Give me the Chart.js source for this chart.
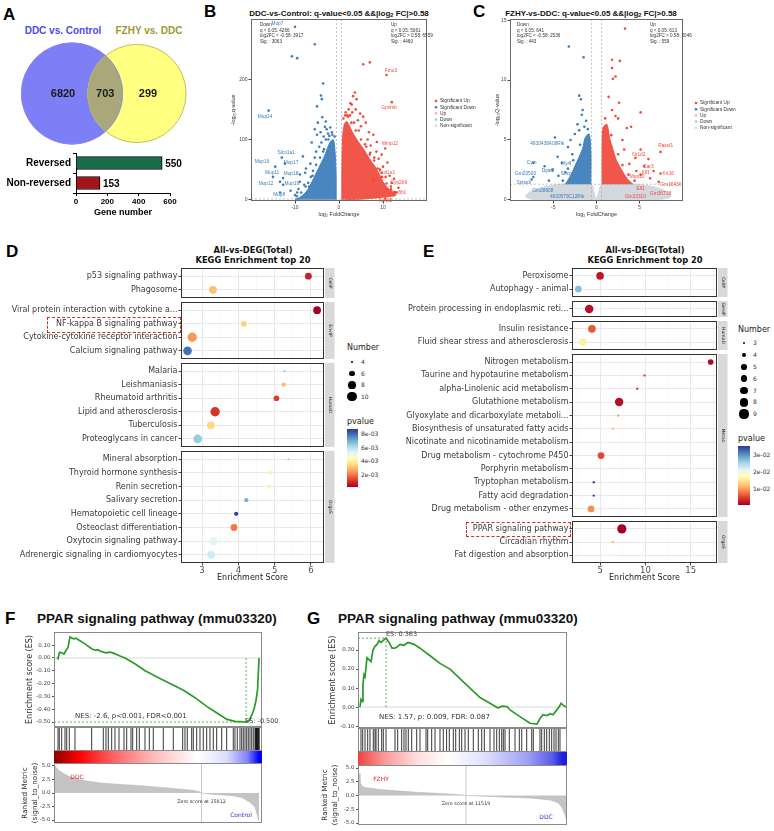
<!DOCTYPE html>
<html lang="en">
<head>
<meta charset="UTF-8">
<title>DEG overlap, volcano, KEGG and GSEA</title>
<script src="https://cdn.jsdelivr.net/npm/chart.js"></script>
<style>
  html, body { margin: 0; padding: 0; background: #fff; }
  body { position: relative; width: 774px; height: 831px; overflow: hidden; }
  .t { position: absolute; white-space: nowrap; }
  .letter { font: bold 17px 'Liberation Sans', Arial, sans-serif; line-height: 17px; color: #000; }
  .c { transform: translateX(-50%); }
  .vt { font: bold 8px 'Liberation Sans', Arial, sans-serif; line-height: 10px; color: #111; }
  .vt sub { font-size: 5.5px; vertical-align: -1px; }
  .kt { font: bold 8.3px 'DejaVu Sans', sans-serif; line-height: 10px; text-align: center; color: #111; }
  .gt { font: bold 13.5px 'Liberation Sans', Arial, sans-serif; line-height: 14px; color: #111; }
  .box { position: absolute; border: 1px dashed #d42a2a; }
</style>
</head>
<body>
<div class="t letter" style="left:3px;top:6px">A</div>
<div class="t letter" style="left:204px;top:3px">B</div>
<div class="t letter" style="left:473px;top:3px">C</div>
<div class="t letter" style="left:6px;top:243px">D</div>
<div class="t letter" style="left:423px;top:243px">E</div>
<div class="t letter" style="left:5px;top:610px">F</div>
<div class="t letter" style="left:307px;top:610px">G</div>

<div class="t vt c" style="left:339px;top:9px">DDC-vs-Control: q-value&lt;0.05 &amp;&amp;|log<sub>2</sub> FC|&gt;0.58</div>
<div class="t vt c" style="left:591px;top:9px">FZHY-vs-DDC: q-value&lt;0.05 &amp;&amp;|log<sub>2</sub> FC|&gt;0.58</div>
<div class="t kt c" style="left:253px;top:245px">All-vs-DEG(Total)<br>KEGG Enrichment top 20</div>
<div class="t kt c" style="left:645px;top:245px">All-vs-DEG(Total)<br>KEGG Enrichment top 20</div>
<div class="t gt" style="left:37px;top:612px">PPAR signaling pathway (mmu03320)</div>
<div class="t gt" style="left:338px;top:612px">PPAR signaling pathway (mmu03320)</div>
<div class="box" style="left:47px;top:317px;width:132px;height:14px"></div>
<div class="box" style="left:466px;top:522px;width:103px;height:13px"></div>

<script>
// ---------------- data ----------------
// A: overlap of DEG sets and reversal
const vennSets = ['DDC vs. Control', 'FZHY vs. DDC'];
const vennCounts = [6820, 703, 299];          // left only, shared, right only
const revCategories = ['Reversed', 'Non-reversed'];
const revValues = [550, 153];

// volcano thresholds
const fcCut = 0.58;
const qCut = 0.05;

// B: DDC vs Control volcano (log2FC, -log10 q)
const bStatsDown = ['Down', 'q < 0.05: 4266', 'log2FC < -0.58: 3917', 'Sig. : 3063'];
const bStatsUp = ['Up', 'q < 0.05: 5061', 'log2FC > 0.58: 6559', 'Sig. : 4460'];
const bDownCloud = [[-0.65,0],[-0.65,40],[-0.9,80],[-1.3,100],[-2,96],[-2.6,86],[-3.2,74],[-4,62],[-4.8,50],[-5.8,35],[-7,18],[-8,9],[-9,3.5],[-10,0.8],[-9,0]];
const bUpCloud = [[0.65,0],[0.65,50],[0.8,100],[1.2,125],[1.8,130],[2.4,122],[3.2,110],[4.5,95],[5.5,85],[6.6,72],[7.5,62],[8.2,55],[9.2,42],[10,30],[11,20],[12,14],[12.8,10],[12.8,7],[11,5],[9,3.5],[7,2],[5,1],[3,0.5],[1.5,0]];
const bSigDown = [[-10,287],[-5.5,258],[-10.7,238],[-9.5,235],[-3.6,193],[-4.1,173],[-3.9,167],[-5,155],[-16,148],[-3.8,137],[-4.8,128],[-3.2,121],[-5.5,117],[-2.8,117],[-5,108],[-4.2,112],[-3.5,105],[-6.2,95],[-2.5,110],[-13,70],[-12.3,60],[-14.5,55],[-15,38],[-12.7,36],[-13.4,30],[-12.7,25],[-13.4,12],[-8.2,72],[-8.9,42],[-7.7,45],[-8.9,30],[-6.5,60],[-5.5,70],[-7,28],[-11,15],[-10,8],[-6,40],[-4.5,88],[-3,100],[-2.2,106],[-7.5,52],[-6.8,22],[-9.5,12],[-5.2,80],[-4,95],[-3.4,84],[-4.3,70],[-5.9,48],[-7.9,25],[-9.2,18],[-1.6,112],[-2.0,120],[-3.0,130],[-1.0,105],[-1.5,108],[-2.4,100],[-3.6,80],[-5.2,58],[-6.4,38],[-7.6,22],[-8.6,12],[-9.6,6]];
const bSigUp = [[5.5,225],[7,228],[10.8,207],[12,162],[3.6,178],[4,167],[3.2,172],[2.9,158],[3.8,150],[5.5,138],[4.8,143],[2.5,140],[6.1,128],[10.5,85],[7.8,108],[8.6,96],[6.8,112],[5,122],[9.7,75],[9,68],[11,62],[9.7,45],[12,28],[10.8,17],[10.5,2],[7.8,33],[13,12],[8.5,80],[4.3,132],[3,145],[6.5,100],[7.2,90],[11.5,40],[13.5,20],[2.2,150],[1.9,140],[4.5,115],[8,70],[10,55],[12.5,35],[1.5,145],[2.6,160],[3.4,128],[5.9,92],[7.1,78],[9.3,50],[10.6,38],[11.8,22],[1.0,135],[1.4,140],[2.0,138],[2.8,128],[3.8,115],[5.0,100],[6.2,88],[7.0,75],[8.0,65],[8.8,52],[9.8,38],[10.8,27],[11.8,18],[12.6,13]];
const bDownLabels = [['Mup7',-14,292],['Mup14',-16.8,138],['Slco1a1',-12,78],['Mup16',-17.5,63],['Mup17',-10.9,61],['Mup11',-15.2,45],['Mup18',-10.9,43],['Mup12',-16.6,27],['Mup19',-10.7,27],['Mup8',-13.6,8]];
const bUpLabels = [['Fmo3',11.8,215],['Gpnmb',11.4,153],['Mmp12',11.6,93],['Sult1e1',10.9,45],['Cyp2b9',13.6,28],['Cyp8b1',13.4,12],['Tceal5',10.5,-1]];

// C: FZHY vs DDC volcano
const cStatsDown = ['Down', 'q < 0.05: 641', 'log2FC < -0.58: 2536', 'Sig. : 443'];
const cStatsUp = ['Up', 'q < 0.05: 613', 'log2FC > 0.58: 2046', 'Sig. : 559'];
const cGrayCloud = [[0,0],[0.35,0.9],[0.6,1.3],[4.5,1.3],[6.8,1.05],[8.3,0.6],[8.6,0.25],[7.5,0.05],[3,0],[-3,0],[-7.5,0.05],[-8.2,0.3],[-7.6,0.7],[-6.2,1.05],[-4.3,1.3],[-0.6,1.3],[-0.35,0.9]];
const cDownCloud = [[-0.65,1.3],[-0.65,4],[-0.85,5.5],[-1.3,5.2],[-1.6,4.3],[-2.0,3.6],[-2.5,2.8],[-3.0,2.0],[-3.6,1.3]];
const cUpCloud = [[0.65,1.3],[0.65,4],[0.75,6],[1.2,6.3],[1.5,5.2],[1.9,4.2],[2.3,3.3],[2.9,2.5],[3.5,1.8],[4.2,1.3]];
const cSigDown = [[-3.2,12.8],[-1.5,11.9],[-2.0,8.7],[-1.8,8.4],[-1.6,7.5],[-1.7,7.1],[-1.4,6.1],[-4.8,5.2],[-3.3,4.4],[-7.3,3.1],[-7.3,1.9],[-5.1,2.5],[-4,3.1],[-3.6,2.3],[-7.5,1.7],[-2.5,5.5],[-1.2,6.6],[-2.2,6.3],[-2.8,3.8],[-4.4,2.0],[-6,2.8],[-5.5,1.6],[-3.0,5.0],[-2.0,5.8],[-4.5,3.6],[-3.9,1.6],[-3.3,2.6],[-2.7,3.3],[-1.9,4.6],[-1.0,5.9]];
const cSigUp = [[3.3,14.3],[1.8,11.7],[2.7,11.6],[1.8,11.0],[2.2,10.3],[1.9,10.1],[2.6,8.1],[5.1,7.3],[1.8,7.5],[4.0,6.1],[3.5,6.0],[7.4,4.0],[5.1,4.2],[6.0,3.4],[6.6,2.4],[7.4,2.2],[5.1,2.1],[7.2,1.5],[2.5,6.8],[3.0,5.0],[4.5,3.5],[3.8,3.0],[5.5,2.8],[6.2,1.8],[4.6,2.4],[2.2,7.0],[1.4,8.6],[3.2,4.2],[4.4,1.6],[3.7,2.1],[3.0,2.9],[2.5,3.8],[1.7,5.4],[1.0,6.8]];
const cDownLabels = [['4930438A08Rik',-5.7,4.7],['Cym',-7.5,3.1],['Gm20500',-8.2,2.2],['Dgat2',-5.6,2.4],['Myrfl',-3.5,3.0],['Sncg',-3.5,2.2],['Sptssb',-8.4,1.4],['Gm28608',-6.2,0.75],['4930579C12Rik',-3.4,0.25]];
const cUpLabels = [['Rassf1',8,4.5],['Nr1d2',4.9,3.75],['Car3',6.0,2.75],['Klf1',5.7,2.3],['Krt16',8.3,2.2],['Mup20',4.7,1.9],['Gm16430',8.6,1.3],['Elf1',5.1,0.9],['Gm36718',7.4,0.5],['Gm33310',4.5,0.25]];

// D: KEGG enrichment (DDC vs Control)
const dNames = ['p53 signaling pathway','Phagosome','Viral protein interaction with cytokine a...','NF-kappa B signaling pathway','Cytokine-cytokine receptor interaction','Calcium signaling pathway','Malaria','Leishmaniasis','Rheumatoid arthritis','Lipid and atherosclerosis','Tuberculosis','Proteoglycans in cancer','Mineral absorption','Thyroid hormone synthesis','Renin secretion','Salivary secretion','Hematopoietic cell lineage','Osteoclast differentiation','Oxytocin signaling pathway','Adrenergic signaling in cardiomyocytes'];
const dClass = ['CellP','CellP','EnvIP','EnvIP','EnvIP','EnvIP','HumaD','HumaD','HumaD','HumaD','HumaD','HumaD','OrgaS','OrgaS','OrgaS','OrgaS','OrgaS','OrgaS','OrgaS','OrgaS'];
const dScore = [5.93,3.30,6.17,4.15,2.73,2.60,5.27,5.25,5.05,3.36,3.24,2.88,5.38,4.90,4.84,4.22,3.94,3.88,3.32,3.25];
const dNumber = [7,8,8,6,10,9,4,5,6,10,8,9,4,5,5,5,5,7,8,8];
const dPvalue = [8e-4,3.1e-3,2e-4,3.4e-3,2.5e-3,8e-3,6.8e-3,3e-3,1.2e-3,1.1e-3,3.5e-3,6.5e-3,6.5e-3,4.1e-3,4.2e-3,7e-3,8.6e-3,2e-3,5.2e-3,5.6e-3];
const dNumberTicks = [4, 6, 8, 10];
const dPTicks = [8e-3, 6e-3, 4e-3, 2e-3];

// E: KEGG enrichment (FZHY vs DDC)
const eNames = ['Peroxisome','Autophagy - animal','Protein processing in endoplasmic reti...','Insulin resistance','Fluid shear stress and atherosclerosis','Nitrogen metabolism','Taurine and hypotaurine metabolism','alpha-Linolenic acid metabolism','Glutathione metabolism','Glyoxylate and dicarboxylate metaboli...','Biosynthesis of unsaturated fatty acids','Nicotinate and nicotinamide metabolism','Drug metabolism - cytochrome P450','Porphyrin metabolism','Tryptophan metabolism','Fatty acid degradation','Drug metabolism - other enzymes','PPAR signaling pathway','Circadian rhythm','Fat digestion and absorption'];
const eClass = ['CellP','CellP','GenIP','HumaD','HumaD','Metab','Metab','Metab','Metab','Metab','Metab','Metab','Metab','Metab','Metab','Metab','Metab','OrgaS','OrgaS','OrgaS'];
const eScore = [5.0,2.6,3.8,4.1,3.1,17.2,9.9,9.1,7.1,7.0,6.4,5.4,5.1,5.3,4.3,4.3,4.0,7.4,6.4,6.6];
const eNumber = [7,6,8,7,7,5,3,3,8,3,3,3,6,3,3,3,6,9,3,3];
const ePvalue = [2e-3,2.7e-2,1.5e-3,6e-3,1.6e-2,1e-3,5e-3,5e-3,1.5e-3,1e-2,1.2e-2,1.8e-2,5e-3,2.0e-2,3.4e-2,3.4e-2,9e-3,5e-4,1.2e-2,1.9e-2];
const eNumberTicks = [3, 4, 5, 6, 7, 8, 9];
const ePTicks = [3e-2, 2e-2, 1e-2];

// F / G: GSEA PPAR signaling pathway (rank, value)
const nGenes = 22300;
const fNES = 'NES: -2.6, p<0.001, FDR<0.001';
const fZero = 15812;
const fES = [[320,0.0],[430,-0.005],[590,0.045],[860,0.04],[1070,0.03],[1290,0.06],[1500,0.08],[1715,0.165],[1930,0.155],[2140,0.15],[2360,0.155],[2570,0.145],[3320,0.11],[4070,0.07],[4500,0.06],[4720,0.065],[4930,0.055],[5570,0.04],[6000,0.045],[6330,0.04],[7080,0.015],[7610,0.0],[8680,-0.045],[9760,-0.1],[10290,-0.12],[11360,-0.16],[12440,-0.2],[13830,-0.25],[15120,-0.31],[16400,-0.38],[17480,-0.43],[18550,-0.48],[19410,-0.495],[19940,-0.497],[20590,-0.5],[20910,-0.49],[21230,-0.44],[21440,-0.4],[21660,-0.33],[21820,-0.25],[21920,-0.1],[21980,0.0]];
const fHits = [429,568,825,1179,1361,1640,2251,4041,5285,5574,5821,6185,6539,6968,7504,7793,8254,8437,8865,9144,9755,10216,10645,11717,12789,13797,14043,14290,14761,14933,15297,15651,16005,16369,16723,17077,17441,17977,18513,19221,19403,19650,19939,20121,20293,20475,20657,20829,21011,21193,21365,21547,21600,21654,21700,21729,21760,21794,21850,21901,21950,22000];
const fRanked = [[0,5.2],[200,4.8],[500,4.2],[1000,3.6],[1700,3.0],[2500,2.6],[3500,2.2],[5000,1.85],[6500,1.65],[8000,1.5],[10000,1.25],[12400,0.9],[14000,0.65],[15000,0.45],[15650,0.2],[15812,0],[16500,-0.15],[17500,-0.3],[19200,-0.5],[20200,-0.9],[21000,-1.7],[21550,-2.6],[21870,-4.6],[21980,-5.2]];

const gNES = 'NES: 1.57, p: 0.009, FDR: 0.087';
const gZero = 11519;
const gES = [[210,0],[320,0.04],[430,0.03],[530,0.12],[640,0.17],[750,0.16],[960,0.26],[1170,0.25],[1390,0.24],[1600,0.30],[1810,0.32],[2030,0.33],[2240,0.35],[2450,0.34],[2670,0.35],[2988,0.363],[3310,0.34],[3630,0.31],[3950,0.31],[4270,0.32],[4480,0.33],[4910,0.325],[5330,0.34],[5660,0.335],[5980,0.33],[6620,0.31],[7690,0.27],[8750,0.23],[9820,0.2],[10880,0.15],[11950,0.1],[13020,0.05],[14080,0.02],[14940,-0.005],[15360,0.005],[15900,0.003],[16220,-0.015],[17280,-0.05],[18350,-0.085],[19100,-0.09],[19420,-0.06],[19740,-0.04],[20170,-0.045],[20490,-0.035],[20810,-0.04],[21130,-0.02],[21450,0.0],[21660,0.02],[21880,0.01],[22200,0.0]];
const gHits = [320,501,747,1035,1280,1633,1814,1921,2166,2529,2700,2988,3948,4236,4663,4908,5122,5367,5730,6263,6615,7256,7437,7864,8216,8749,9102,9454,9742,10169,10425,10809,11065,11417,11769,12303,12836,13199,13476,14084,14511,14799,15077,15333,15504,15685,16144,16752,17211,17467,18000,18534,18705,19419,19600,19878,20134,20411,20667,20913,21127,21372,21553];
const gRanked = [[0,4.2],[107,4.0],[213,2.5],[427,1.7],[747,1.45],[2350,1.1],[4480,0.8],[6615,0.55],[8750,0.35],[10880,0.15],[11519,0],[15150,-0.25],[18350,-0.45],[20490,-0.8],[21340,-1.3],[21770,-2.2],[22090,-3.5],[22200,-4.2]];

// ---------------- helpers ----------------
const FA = "'Liberation Sans', Arial, sans-serif";
const FD = "'DejaVu Sans', sans-serif";
Chart.defaults.animation = false;
Chart.defaults.events = [];
Chart.defaults.font.family = FD;
Chart.defaults.plugins.legend.display = false;
Chart.defaults.plugins.tooltip.enabled = false;

const COL = { up: '#ef4a3c', down: '#3b7dbb', upPale: '#f5b4ac', downPale: '#a9c8e6', ns: '#d3d8de' };
const RDYLBU = ['#a50026','#d73027','#f46d43','#fdae61','#fee090','#ffffbf','#e0f3f8','#abd9e9','#74add1','#4575b4','#313695'];

function hex(h) { return [1, 3, 5].map(i => parseInt(h.substr(i, 2), 16)); }
function pColor(p, lo, hi) {
  let t = (p - lo) / (hi - lo);
  t = Math.max(0, Math.min(1, t));
  const f = t * (RDYLBU.length - 1);
  const i = Math.min(Math.floor(f), RDYLBU.length - 2), u = f - i;
  const a = hex(RDYLBU[i]), b = hex(RDYLBU[i + 1]);
  return 'rgb(' + a.map((v, k) => Math.round(v + (b[k] - v) * u)).join(',') + ')';
}
const pts = arr => arr.map(([x, y]) => ({ x, y }));

// fixed axis sizes, with the label overhang padding switched off
function noPad(s) { s.paddingTop = 0; s.paddingBottom = 0; s.paddingLeft = 0; s.paddingRight = 0; }
const fitW = w => s => { s.width = w; noPad(s); };
const fitH = h => s => { s.height = h; noPad(s); };

function extrasPlugin(ex) {
  return {
    id: 'extras',
    afterDatasetsDraw(chart) {
      if (!ex.barValues) return;
      const ctx = chart.ctx, bv = ex.barValues;
      ctx.save();
      ctx.font = bv.font; ctx.fillStyle = bv.color; ctx.textAlign = 'left'; ctx.textBaseline = 'middle';
      chart.getDatasetMeta(0).data.forEach((el, i) => {
        ctx.fillText(String(chart.data.datasets[0].data[i]), el.x + bv.offset, el.y + 1);
      });
      ctx.restore();
    },
    afterDraw(chart) {
      const ctx = chart.ctx, a = chart.chartArea;
      ctx.save();
      if (ex.strip) {
        ctx.fillStyle = '#d9d9d9';
        ctx.fillRect(a.right + 1, a.top, ex.strip.w, a.bottom - a.top);
        ctx.save();
        ctx.translate(a.right + 1 + ex.strip.w / 2, (a.top + a.bottom) / 2);
        ctx.rotate(Math.PI / 2);
        ctx.fillStyle = '#1a1a1a'; ctx.font = ex.strip.font;
        ctx.textAlign = 'center'; ctx.textBaseline = 'middle';
        ctx.fillText(ex.strip.text, 0, 0);
        ctx.restore();
      }
      if (ex.frame) {
        ctx.strokeStyle = ex.frame.color; ctx.lineWidth = ex.frame.width;
        ctx.strokeRect(a.left + 0.5, a.top + 0.5, a.right - a.left - 1, a.bottom - a.top - 1);
      }
      (ex.texts || []).forEach(t => {
        const x = (t.xd ? chart.scales.x.getPixelForValue(t.x) : t.x) + (t.dx || 0);
        const y = (t.yd ? chart.scales.y.getPixelForValue(t.y) : t.y) + (t.dy || 0);
        ctx.font = t.font; ctx.fillStyle = t.color || '#000';
        ctx.textAlign = t.align || 'left'; ctx.textBaseline = 'middle';
        ctx.fillText(t.text, x, y);
      });
      if (ex.legend) {
        const L = ex.legend;
        L.items.forEach(([txt, col], i) => {
          const y = L.y + i * L.dy;
          ctx.fillStyle = col; ctx.beginPath();
          ctx.arc(a.right + L.dx, y, L.r, 0, Math.PI * 2); ctx.fill();
          ctx.fillStyle = '#333'; ctx.font = L.font; ctx.textAlign = 'left'; ctx.textBaseline = 'middle';
          ctx.fillText(txt, a.right + L.tx, y);
        });
      }
      ctx.restore();
    }
  };
}

function mk(left, top, w, h, cfg, ex) {
  const cv = document.createElement('canvas');
  cv.width = w; cv.height = h;
  cv.style.cssText = 'position:absolute;left:' + left + 'px;top:' + top + 'px;width:' + w + 'px;height:' + h + 'px';
  document.body.appendChild(cv);
  cfg.options = cfg.options || {};
  cfg.options.responsive = false;
  cfg.options.layout = Object.assign({ autoPadding: false }, cfg.options.layout || {});
  cfg.plugins = (cfg.plugins || []).concat([extrasPlugin(ex || {})]);
  return new Chart(cv, cfg);
}

function txt(x, y, s, css, center) {
  const d = document.createElement('div');
  d.className = 't' + (center ? ' c' : '');
  d.style.cssText += 'left:' + x + 'px;top:' + y + 'px;' + css;
  d.textContent = s;
  document.body.appendChild(d);
}

// ---------------- A: Venn ----------------
txt(63, 26, vennSets[0], "font:bold 10px " + FA + ";line-height:10px;color:#4b4bea", true);
txt(149, 26, vennSets[1], "font:bold 10px " + FA + ";line-height:10px;color:#9c9a2e", true);

const vennLens = {
  id: 'vennLens',
  afterDatasetsDraw(chart) {
    const ctx = chart.ctx;
    const [p0, p1] = chart.getDatasetMeta(0).data;
    const r0 = p0.options.radius, r1 = p1.options.radius;
    ctx.save();
    ctx.beginPath(); ctx.arc(p0.x, p0.y, r0, 0, Math.PI * 2); ctx.clip();
    ctx.beginPath(); ctx.arc(p1.x, p1.y, r1, 0, Math.PI * 2);
    ctx.fillStyle = '#aaa87b'; ctx.fill();
    ctx.restore();
    ctx.save();
    ctx.lineWidth = 0.8;
    ctx.strokeStyle = '#8a8ae6'; ctx.beginPath(); ctx.arc(p0.x, p0.y, r0 - 0.4, 0, Math.PI * 2); ctx.stroke();
    ctx.strokeStyle = '#b2b062'; ctx.beginPath(); ctx.arc(p1.x, p1.y, r1 - 0.4, 0, Math.PI * 2); ctx.stroke();
    ctx.font = 'bold 11px ' + FA; ctx.fillStyle = '#1a1a1a';
    ctx.textAlign = 'center'; ctx.textBaseline = 'middle';
    const lens = (p1.x - r1 + p0.x + r0) / 2;
    ctx.fillText(String(vennCounts[0]), p0.x - 9, p0.y);
    ctx.fillText(String(vennCounts[1]), lens, p0.y);
    ctx.fillText(String(vennCounts[2]), p1.x + 11, p1.y);
    ctx.restore();
  }
};
mk(0, 36, 200, 115, {
  type: 'bubble',
  data: { datasets: [{
    data: vennSets.map((s, i) => ({ x: i, y: 0, r: i === 0 ? 51 : 49.5 })),
    backgroundColor: ['#7e7ef6', '#ffff80'],
    borderWidth: 0, clip: false
  }] },
  options: {
    layout: { padding: 0 },
    scales: { x: { display: false, min: -72 / 65, max: 128 / 65 }, y: { display: false, min: -1, max: 1 } }
  },
  plugins: [vennLens]
});

// ---------------- A: reversal bars ----------------
mk(0, 150, 200, 68, {
  type: 'bar',
  data: { labels: revCategories, datasets: [{
    data: revValues, backgroundColor: ['#1b6c4d', '#a3141b'], borderColor: '#000', borderWidth: 1, barThickness: 13
  }] },
  options: {
    indexAxis: 'y',
    layout: { padding: { top: 3, right: 30, bottom: 0, left: 0 } },
    scales: {
      y: {
        afterFit: fitW(76),
        grid: { drawOnChartArea: false, tickLength: 3, color: '#000' },
        border: { display: true, color: '#000', width: 1 },
        ticks: { font: { family: FA, weight: 'bold', size: 10 }, color: '#000', padding: 2 }
      },
      x: {
        min: 0, max: 600,
        afterFit: fitH(25),
        afterBuildTicks: s => { s.ticks = [0, 200, 400, 600].map(v => ({ value: v })); },
        grid: { drawOnChartArea: false, tickLength: 3, color: '#000' },
        border: { color: '#000', width: 1 },
        ticks: { font: { family: FA, weight: 'bold', size: 8 }, color: '#000', padding: 1, autoSkip: false, maxRotation: 0 },
        title: { display: true, text: 'Gene number', font: { family: FA, weight: 'bold', size: 9 }, color: '#000', padding: 0 }
      }
    }
  }
}, { barValues: { font: 'bold 10px ' + FA, color: '#000', offset: 3 } });

// ---------------- B / C: volcano ----------------
function volcano(o) {
  const cut = -Math.log10(qCut);
  const thr = { type: 'line', borderColor: '#a0a0a0', borderWidth: 0.6, borderDash: [2, 2], pointRadius: 0, fill: false, order: 0 };
  const cloud = (data, col, ord) => ({ type: 'line', data: pts(data), fill: 'shape', backgroundColor: col, borderColor: col, borderWidth: 1, pointRadius: 0, tension: 0.3, order: ord });
  const ds = [
    Object.assign({ data: [{ x: -fcCut, y: o.yMin }, { x: -fcCut, y: o.yMax }] }, thr),
    Object.assign({ data: [{ x: fcCut, y: o.yMin }, { x: fcCut, y: o.yMax }] }, thr),
    Object.assign({ data: [{ x: o.xMin, y: cut }, { x: o.xMax, y: cut }] }, thr),
    { data: pts(o.sigUp), backgroundColor: COL.up, pointRadius: 1.3, borderWidth: 0, order: 1 },
    { data: pts(o.sigDown), backgroundColor: COL.down, pointRadius: 1.3, borderWidth: 0, order: 1 },
    cloud(o.upCloud, 'rgba(239,74,60,0.93)', 2),
    cloud(o.downCloud, 'rgba(59,125,187,0.93)', 2)
  ];
  if (o.gray) ds.push(cloud(o.gray, COL.ns, 3));

  const texts = [];
  const statFont = '4.6px ' + FA;
  o.statsDown.forEach((s, i) => texts.push({ text: s, x: o.statDownX, y: 25 + i * 5.6, font: statFont, color: '#333' }));
  o.statsUp.forEach((s, i) => texts.push({ text: s, x: o.statUpX, y: 25 + i * 5.6, font: statFont, color: '#333' }));
  o.downLabels.forEach(([n, x, y]) => texts.push({ text: n, x, y, xd: true, yd: true, font: '4.8px ' + FA, color: COL.down, align: 'center' }));
  o.upLabels.forEach(([n, x, y]) => texts.push({ text: n, x, y, xd: true, yd: true, font: '4.8px ' + FA, color: COL.up, align: 'center' }));

  const axisCommon = {
    grid: { drawOnChartArea: false, tickLength: 2.5, color: '#444' },
    border: { display: false },
    ticks: { font: { size: 5, family: FA }, color: '#444', padding: 1, autoSkip: false, maxRotation: 0 }
  };
  mk(o.left, 0, o.width, 218, {
    type: 'scatter',
    data: { datasets: ds },
    options: {
      layout: { padding: { top: 19, right: o.padR, bottom: 0, left: o.padL } },
      scales: {
        x: Object.assign({
          type: 'linear', min: o.xMin, max: o.xMax,
          afterFit: fitH(17),
          afterBuildTicks: s => { s.ticks = o.xTicks.map(v => ({ value: v })); },
          title: { display: true, text: 'log\u2082 FoldChange', font: { size: 5.5, family: FA }, color: '#333', padding: 0 }
        }, axisCommon),
        y: Object.assign({
          type: 'linear', min: o.yMin, max: o.yMax,
          afterFit: fitW(o.yW),
          afterBuildTicks: s => { s.ticks = o.yTicks.map(v => ({ value: v })); },
          title: { display: true, text: o.yTitle, font: { size: 5.5, family: FA }, color: '#333', padding: 0 }
        }, axisCommon)
      }
    }
  }, {
    frame: { color: '#6a6a6a', width: 1 },
    texts,
    legend: {
      dx: o.legDx, tx: o.legDx + 4, y: o.legY, dy: 6.2, r: 1.3, font: '4.8px ' + FA,
      items: [['Significant Up', COL.up], ['Significant Down', COL.down], ['Up', COL.upPale], ['Down', COL.downPale], ['Non-significant', COL.ns]]
    }
  });
}

volcano({
  left: 200, width: 290, padL: 30, yW: 21, padR: 63,
  xMin: -20, xMax: 20, yMin: -2, yMax: 300, xTicks: [-10, 0, 10], yTicks: [0, 100, 200],
  yTitle: '-log\u2081\u2080q-value',
  sigUp: bSigUp, sigDown: bSigDown, upCloud: bUpCloud, downCloud: bDownCloud, gray: null,
  statsDown: bStatsDown, statsUp: bStatsUp, statDownX: 60, statUpX: 191,
  downLabels: bDownLabels, upLabels: bUpLabels, legDx: 9, legY: 101
});
volcano({
  left: 490, width: 284, padL: 4, yW: 16, padR: 91,
  xMin: -10, xMax: 10, yMin: -0.1, yMax: 15.1, xTicks: [-5, 0, 5], yTicks: [0, 5, 10, 15],
  yTitle: '-log\u2081\u2080Q-value',
  sigUp: cSigUp, sigDown: cSigDown, upCloud: cUpCloud, downCloud: cDownCloud, gray: cGrayCloud,
  statsDown: cStatsDown, statsUp: cStatsUp, statDownX: 27, statUpX: 160,
  downLabels: cDownLabels, upLabels: cUpLabels, legDx: 13, legY: 103
});

// ---------------- D / E: KEGG bubbles ----------------
function keggFacet(o) {
  const n = o.idx.length;
  const topR = Math.round(o.top), botR = Math.round(o.top + o.h);
  const xh = o.bottom ? 20 : 0;
  const isMajor = v => o.xMajor.includes(v);
  mk(o.left, topR, o.width, botR - topR + xh, {
    type: 'scatter',
    data: { datasets: [{
      data: o.idx.map((k, i) => ({ x: o.score[k], y: i + 1 })),
      pointRadius: o.idx.map(k => o.rad(o.num[k])),
      backgroundColor: o.idx.map(k => pColor(o.pv[k], o.pLo, o.pHi)),
      borderWidth: 0, clip: false
    }] },
    options: {
      layout: { padding: { top: 0, right: o.width - o.areaRight, bottom: 0, left: 0 } },
      scales: {
        x: {
          type: 'linear', min: o.xMin, max: o.xMax,
          afterFit: fitH(xh),
          afterBuildTicks: s => { s.ticks = o.xGrid.map(v => ({ value: v })); },
          grid: {
            color: c => isMajor(c.tick.value) ? '#e6e6e6' : '#f3f3f3',
            lineWidth: c => isMajor(c.tick.value) ? 0.9 : 0.6,
            drawTicks: o.bottom, tickLength: 2.5,
            tickColor: c => isMajor(c.tick.value) ? '#333' : 'rgba(0,0,0,0)'
          },
          border: { display: false },
          ticks: { display: o.bottom, autoSkip: false, maxRotation: 0, callback: v => isMajor(v) ? String(v) : '', font: { size: 8.5 }, color: '#4d4d4d', padding: 0 },
          title: { display: o.bottom, text: 'Enrichment Score', font: { size: 8 }, color: '#1a1a1a', padding: 0 }
        },
        y: {
          type: 'linear', reverse: true, min: 0.4, max: n + 0.6,
          afterFit: fitW(o.yW),
          afterBuildTicks: s => { s.ticks = o.idx.map((k, i) => ({ value: i + 1 })); },
          grid: { color: '#e6e6e6', lineWidth: 0.9, tickLength: 2.5, tickColor: '#333' },
          border: { display: false },
          ticks: { autoSkip: false, callback: v => o.names[o.idx[v - 1]], font: { size: 8 }, color: '#3a3a3a', padding: 1 }
        }
      }
    }
  }, { frame: { color: '#333', width: 1 }, strip: { text: o.strip, w: 9.5, font: '4.5px ' + FD } });
}

function keggPanel(o) {
  const groups = [...new Set(o.cls)];
  let top = o.top0;
  groups.forEach((g, gi) => {
    const idx = o.cls.map((c, i) => c === g ? i : -1).filter(i => i >= 0);
    const h = (idx.length + 0.2) * o.s;
    keggFacet(Object.assign({}, o, { idx, top, h, strip: g, bottom: gi === groups.length - 1 }));
    top += h + o.gap;
  });
}

function keggLegend(o) {
  txt(o.left, o.numY - 5, 'Number', 'font:8px ' + FD + ';line-height:10px;color:#222');
  o.nums.forEach((n, i) => {
    const r = o.rad(n), y = o.numY0 + i * o.numDy;
    const d = document.createElement('div');
    d.style.cssText = 'position:absolute;background:#000;border-radius:50%;left:' + (o.dotX - r) + 'px;top:' + (y - r) + 'px;width:' + (2 * r) + 'px;height:' + (2 * r) + 'px';
    document.body.appendChild(d);
    txt(o.labX, y - 4, String(n), 'font:6px ' + FD + ';line-height:8px;color:#333');
  });
  txt(o.left, o.pY - 5, 'pvalue', 'font:8px ' + FD + ';line-height:10px;color:#222');
  const bar = document.createElement('div');
  bar.style.cssText = 'position:absolute;left:' + o.left + 'px;top:' + o.barTop + 'px;width:' + o.barW + 'px;height:' + o.barH + 'px;background:linear-gradient(to top,' + RDYLBU.join(',') + ')';
  document.body.appendChild(bar);
  o.pTicks.forEach(v => {
    const y = o.barTop + (o.pHi - v) / (o.pHi - o.pLo) * o.barH;
    txt(o.labX, y - 4, v.toExponential(0).replace('e-', 'e-0'), 'font:6px ' + FD + ';line-height:8px;color:#333');
  });
}

const dRad = n => Math.sqrt(1 + (n - 4) * 3.515);
const eRad = n => Math.sqrt(1.44 + (n - 3) * 3.287);
const dPLo = 2e-4, dPHi = 8.8e-3, ePLo = 4e-4, ePHi = 3.5e-2;

keggPanel({
  left: 0, width: 335, areaRight: 324, yW: 181, top0: 268, s: 13.6, gap: 4,
  names: dNames, cls: dClass, score: dScore, num: dNumber, pv: dPvalue, rad: dRad, pLo: dPLo, pHi: dPHi,
  xMin: 2.42, xMax: 6.36, xMajor: [3, 4, 5, 6], xGrid: [2.5, 3, 3.5, 4, 4.5, 5, 5.5, 6]
});
keggPanel({
  left: 395, width: 333, areaRight: 322, yW: 177, top0: 268, s: 13.4, gap: 3.5,
  names: eNames, cls: eClass, score: eScore, num: eNumber, pv: ePvalue, rad: eRad, pLo: ePLo, pHi: ePHi,
  xMin: 1.9, xMax: 17.9, xMajor: [5, 10, 15], xGrid: [2.5, 5, 7.5, 10, 12.5, 15, 17.5]
});
keggLegend({ left: 347, numY: 348, nums: dNumberTicks, rad: dRad, dotX: 352, labX: 361, numY0: 362, numDy: 11.6,
  pY: 422, barTop: 429, barW: 10.5, barH: 58, pLo: dPLo, pHi: dPHi, pTicks: dPTicks });
keggLegend({ left: 738, numY: 330, nums: eNumberTicks, rad: eRad, dotX: 744, labX: 753, numY0: 343.3, numDy: 11.8,
  pY: 439, barTop: 446, barW: 11.5, barH: 59, pLo: ePLo, pHi: ePHi, pTicks: ePTicks });

// ---------------- F / G: GSEA ----------------
function gsea(o) {
  const lin = () => ({ type: 'linear', min: 0, max: nGenes, display: false });
  const ext = o.es.reduce((m, p) => Math.abs(p[1]) > Math.abs(m[1]) ? p : m, o.es[0]);
  const yAx = (min, max, ticks, dec, title, yW, tSize, tLine) => ({
    type: 'linear', min, max,
    afterFit: fitW(yW),
    afterBuildTicks: s => { s.ticks = ticks.map(v => ({ value: v })); },
    grid: { drawOnChartArea: false, tickLength: 2, color: '#555' },
    border: { display: false },
    ticks: { autoSkip: false, callback: v => v.toFixed(dec), font: { size: 5.5 }, color: '#444', padding: 1.5 },
    title: { display: true, text: title, font: { size: tSize, lineHeight: tLine }, color: '#333', padding: 0 }
  });
  const L = o.esPad[0] + o.esPad[1];
  const green = '#2b9a2b';
  const dash = { type: 'line', borderColor: green, borderDash: [2, 2], borderWidth: 0.8, pointRadius: 0, order: 1 };
  // running enrichment score
  mk(o.left, 628, o.width, o.esH, {
    type: 'scatter',
    data: { datasets: [
      { type: 'line', data: pts(o.es), borderColor: green, borderWidth: 1.7, pointRadius: 0, tension: 0, order: 0 },
      { type: 'line', data: [{ x: 0, y: 0 }, { x: nGenes, y: 0 }], borderColor: '#cfcfcf', borderWidth: 0.8, pointRadius: 0, order: 2 },
      Object.assign({ data: [{ x: 0, y: ext[1] }, { x: ext[0], y: ext[1] }] }, dash),
      Object.assign({ data: [{ x: ext[0], y: 0 }, { x: ext[0], y: ext[1] }] }, dash)
    ] },
    options: {
      layout: { padding: { top: 4, right: o.width - o.right, bottom: 0, left: o.esPad[0] } },
      scales: { x: lin(), y: yAx(o.esMin, o.esMax, o.esTicks, 2, 'Enrichment score (ES)', o.esPad[1], 8, 1.2) }
    }
  }, {
    frame: { color: '#8a8a8a', width: 1 },
    texts: [
      { text: o.nes, x: L + 21, y: o.esH - 11, font: '7px ' + FD, color: '#333' },
      { text: 'ES: ' + ext[1].toFixed(3), x: ext[0], y: ext[1], xd: true, yd: true, dx: o.esDx, dy: o.esDy, font: '6.5px ' + FD, color: '#444' }
    ]
  });
  // hit positions
  const hTop = 628 + o.esH;
  mk(o.left, hTop, o.width, 24, {
    type: 'scatter',
    data: { datasets: [{ data: o.hits.map(r => ({ x: r, y: 0.5 })), pointStyle: 'line', rotation: 90, pointRadius: 12, borderWidth: 1, borderColor: 'rgba(20,20,20,0.85)', clip: false }] },
    options: {
      layout: { padding: { top: 0, right: o.width - o.right, bottom: 0, left: L } },
      scales: { x: lin(), y: { display: false, min: 0, max: 1 } }
    }
  }, { frame: { color: '#8a8a8a', width: 1 } });
  // rank colour bar
  const bTop = hTop + 24;
  mk(o.left, bTop, o.width, o.barH, {
    type: 'bar',
    data: { labels: [''], datasets: [{
      data: [[0, nGenes]], barPercentage: 1, categoryPercentage: 1, borderWidth: 0,
      backgroundColor: c => {
        const a = c.chart.chartArea;
        if (!a) return '#fff';
        const g = c.chart.ctx.createLinearGradient(a.left, 0, a.right, 0);
        o.grad.forEach(([p, col]) => g.addColorStop(p, col));
        return g;
      }
    }] },
    options: {
      indexAxis: 'y',
      layout: { padding: { top: 0, right: o.width - o.right, bottom: 0, left: L } },
      scales: { x: lin(), y: { display: false } }
    }
  });
  // ranked list metric (canvas extends a little above/below so the axis title is not cut)
  const rTop = bTop + o.barH;
  const RL = o.rkPad[0] + o.rkPad[1];
  const ext8 = 8;
  mk(o.left, rTop - ext8, o.width, 60 + 2 * ext8, {
    type: 'scatter',
    data: { datasets: [
      { type: 'line', data: pts(o.ranked), fill: 'origin', backgroundColor: '#c4c4c4', borderColor: '#b9b9b9', borderWidth: 0.6, pointRadius: 0, order: 1 },
      { type: 'line', data: [{ x: o.zero, y: o.rkMin }, { x: o.zero, y: o.rkMax }], borderColor: '#c2c2c2', borderWidth: 0.9, pointRadius: 0, order: 0 }
    ] },
    options: {
      layout: { padding: { top: ext8, right: o.width - o.right, bottom: ext8, left: o.rkPad[0] } },
      scales: { x: lin(), y: yAx(o.rkMin, o.rkMax, [5, 2.5, 0, -2.5, -5], 1, ['Ranked Metric', '(signal_to_noise)'], o.rkPad[1], 7.2, 1.4) }
    }
  }, {
    frame: { color: '#8a8a8a', width: 1 },
    texts: [
      { text: o.posLabel, x: RL + 23, y: ext8 + 14, font: '6px ' + FD, color: '#d62728', align: 'center' },
      { text: 'Zero score at ' + o.zero, x: o.zero, xd: true, y: ext8 + 39, font: '4.8px ' + FD, color: '#333', align: 'center' },
      { text: o.negLabel, x: o.right - 21, y: ext8 + 52, font: '6px ' + FD, color: '#3434c8', align: 'center' }
    ]
  });
}

gsea({
  left: 0, width: 300, right: 262, esH: 99, barH: 12, esPad: [25, 29], rkPad: [20, 34],
  es: fES, esMin: -0.539, esMax: 0.203, esTicks: [0.1, 0, -0.1, -0.2, -0.3, -0.4, -0.5], esDx: -1, esDy: -1,
  hits: fHits, ranked: fRanked, zero: fZero, rkMin: -5.55, rkMax: 5.55, nes: fNES,
  posLabel: 'DDC', negLabel: 'Control',
  grad: [[0, '#8b0000'], [0.12, '#ff0000'], [0.27, '#ff5a5a'], [0.46, '#ffb4b4'], [0.69, '#ffffff'], [0.83, '#dcdcff'], [0.93, '#8282ff'], [0.985, '#0000ff'], [1, '#0000ff']]
});
gsea({
  left: 300, width: 290, right: 267, esH: 100, barH: 13, esPad: [28, 30], rkPad: [20, 38],
  es: gES, esMin: -0.11, esMax: 0.395, esTicks: [0.3, 0.2, 0.1, 0, -0.1], esDx: 0, esDy: -4,
  hits: gHits, ranked: gRanked, zero: gZero, rkMin: -5.36, rkMax: 5.55, nes: gNES,
  posLabel: 'FZHY', negLabel: 'DDC',
  grad: [[0, '#ee4040'], [0.12, '#fa9696'], [0.28, '#ffdcdc'], [0.43, '#ffffff'], [0.6, '#e1e1ff'], [0.81, '#a0a0f5'], [0.93, '#5a5aeb'], [0.98, '#1e1edc'], [1, '#1e1edc']]
});
</script>
</body>
</html>
